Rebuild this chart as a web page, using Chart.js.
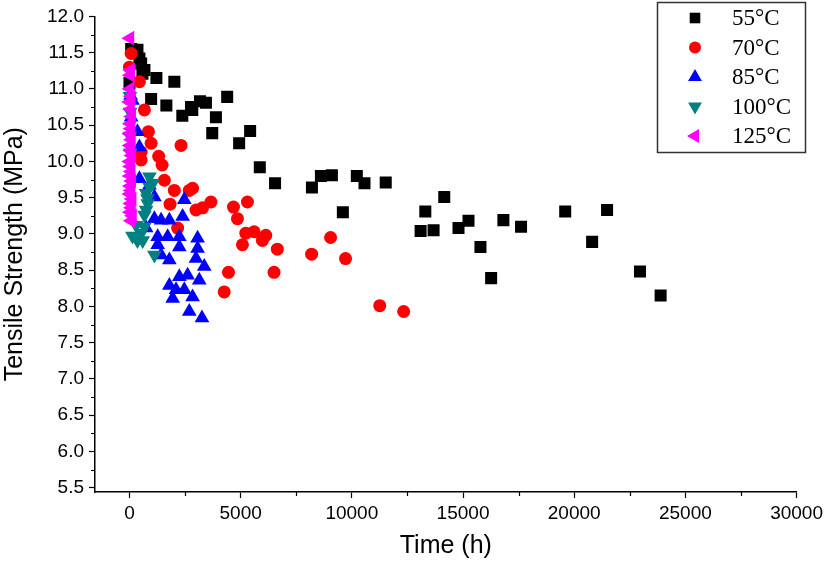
<!DOCTYPE html>
<html><head><meta charset="utf-8">
<script src="https://cdn.jsdelivr.net/npm/chart.js@4/dist/chart.umd.min.js"></script>
<style>html,body{margin:0;padding:0;background:#fff}</style>
</head><body>
<canvas id="c" width="827" height="561"></canvas>
<script>
// ---- data ----
const seriesLabels = ['55\u00B0C','70\u00B0C','85\u00B0C','100\u00B0C','125\u00B0C'];
const xTicks = [0,5000,10000,15000,20000,25000,30000];
const yTicks = [5.5,6.0,6.5,7.0,7.5,8.0,8.5,9.0,9.5,10.0,10.5,11.0,11.5,12.0];

const time55 = [76,359,448,525,673,583,1211,2018,973,1659,3170,3439,2767,2825,2377,4394,3888,3722,5426,4932,5861,6547,8206,8609,9103,10224,10569,11524,9596,14156,13304,13093,13676,14797,15246,15784,16264,16815,17609,19595,20806,21478,22958,23886,0];
const ts55   = [11.55,11.54,11.42,11.35,11.26,11.21,11.15,11.10,10.86,10.77,10.83,10.81,10.75,10.71,10.63,10.89,10.61,10.39,10.42,10.25,9.92,9.70,9.64,9.80,9.81,9.80,9.70,9.71,9.30,9.51,9.31,9.04,9.05,9.08,9.18,8.82,8.39,9.19,9.10,9.31,8.89,9.33,8.48,8.15,11.08];

const time70 = [76,0,448,673,852,973,2318,525,525,1314,1466,1569,2018,2690,2838,1825,2991,3287,3663,4677,5305,4856,2166,5233,5605,5977,6130,5080,6650,4453,6502,4260,9044,8192,9717,11255,12331];
const ts70   = [11.49,11.30,11.10,10.71,10.41,10.25,10.22,10.13,10.02,10.07,9.95,9.74,9.60,9.60,9.63,9.41,9.33,9.36,9.44,9.37,9.44,9.21,9.08,9.01,9.03,8.91,8.98,8.85,8.79,8.47,8.47,8.20,8.95,8.72,8.66,8.01,7.93];

const time85 = [50,135,76,359,448,448,1121,2466,1121,1421,1794,2390,749,1269,1717,2242,3063,1269,2242,3063,1421,1794,2991,3363,2242,2614,1794,3139,2094,2466,2838,1942,2690,3260,897];
const ts85   = [10.91,10.84,10.61,10.41,10.20,9.76,9.51,9.47,9.21,9.19,9.19,9.24,9.08,8.96,8.96,8.96,8.94,8.85,8.82,8.80,8.71,8.64,8.66,8.55,8.41,8.43,8.29,8.36,8.23,8.23,8.13,8.11,7.93,7.84,9.67];

const time100 = [20,30,20,40,897,1045,749,897,807,821,749,673,300,673,525,359,596,1121,135];
const ts100   = [10.90,10.68,10.35,10.12,9.79,9.70,9.56,9.65,9.49,9.42,9.33,9.26,9.12,9.10,9.01,8.91,8.91,8.71,8.97];

const time125 = [20,60,40,30,80,10,50,100,40,70,20,90,30,60,110,15,50,80,30,100,40,70,20,120,60,90,40,140,80];
const ts125   = [11.70,11.26,11.19,11.00,10.90,10.82,10.72,10.62,10.52,10.45,10.38,10.30,10.22,10.15,10.08,10.00,9.93,9.86,9.80,9.73,9.66,9.60,9.55,9.48,9.42,9.36,9.30,9.25,9.18];

// ---- build ----
function pts(xs, ys){ return xs.map((x,i)=>({x:x, y:ys[i]})); }
const styles = [
  {c:'#000000', s:'rect', r:8.5, rot:0},
  {c:'#ff0000', s:'circle', r:6.5, rot:0},
  {c:'#0000ff', s:'triangle', r:8.5, rot:0},
  {c:'#008080', s:'triangle', r:8.5, rot:180},
  {c:'#ff00ff', s:'triangle', r:8.5, rot:-90}
];
const legendR = [7.5, 6, 8, 8, 8];
const allX = [time55,time70,time85,time100,time125];
const allY = [ts55,ts70,ts85,ts100,ts125];
const datasets = seriesLabels.map((lab,i)=>({
  label: lab,
  data: pts(allX[i], allY[i]),
  pointStyle: styles[i].s,
  pointRotation: styles[i].rot,
  pointRadius: styles[i].r,
  pointHoverRadius: styles[i].r,
  backgroundColor: styles[i].c,
  borderColor: styles[i].c,
  pointBorderWidth: 0,
  showLine: false,
  order: 5 - i
}));

const FONT = '"Liberation Sans", Arial, sans-serif';

const minorTicks = {
  id: 'minorTicks',
  afterDraw(chart){
    const ctx = chart.ctx, xs = chart.scales.x, ys = chart.scales.y;
    ctx.save();
    ctx.strokeStyle = '#000'; ctx.lineWidth = 1.2;
    ctx.beginPath();
    for (let v = 2500; v < 30000; v += 5000){
      const p = Math.round(xs.getPixelForValue(v)) + 0.5;
      ctx.moveTo(p, xs.top); ctx.lineTo(p, xs.top + 4);
    }
    for (let v = 5.75; v < 12; v += 0.5){
      const p = Math.round(ys.getPixelForValue(v)) + 0.5;
      ctx.moveTo(ys.right, p); ctx.lineTo(ys.right - 4, p);
    }
    ctx.stroke();
    ctx.restore();
  }
};

function drawMarker(ctx, st, r, x, y){
  ctx.save();
  ctx.fillStyle = st.c;
  ctx.translate(x, y);
  ctx.rotate(st.rot * Math.PI / 180);
  ctx.beginPath();
  if (st.s === 'rect'){
    const h = r * Math.SQRT1_2; ctx.rect(-h, -h, 2*h, 2*h);
  } else if (st.s === 'circle'){
    ctx.arc(0, 0, r, 0, Math.PI*2);
  } else {
    ctx.moveTo(0, -r);
    ctx.lineTo(r*Math.cos(Math.PI/6), r*0.5);
    ctx.lineTo(-r*Math.cos(Math.PI/6), r*0.5);
    ctx.closePath();
  }
  ctx.fill();
  ctx.restore();
}

const boxLegend = {
  id: 'boxLegend',
  afterDraw(chart){
    const ctx = chart.ctx;
    ctx.save();
    ctx.strokeStyle = '#333'; ctx.lineWidth = 1.5;
    ctx.strokeRect(657.5, 2.5, 148, 150);
    const rows = [18, 47.5, 77, 106.5, 136];
    ctx.font = '23px "Liberation Serif", "Times New Roman", serif';
    ctx.fillStyle = '#000'; ctx.textBaseline = 'middle'; ctx.textAlign = 'left';
    chart.data.datasets.forEach((ds, i) => {
      drawMarker(ctx, styles[i], legendR[i], 695, rows[i]);
      ctx.fillText(ds.label, 732, rows[i] + 1);
    });
    ctx.restore();
  }
};

new Chart(document.getElementById('c'), {
  type: 'scatter',
  data: { datasets },
  plugins: [minorTicks, boxLegend],
  options: {
    responsive: false,
    animation: false,
    devicePixelRatio: 1,
    layout: { padding: { top: 16, right: 28, left: 0, bottom: 0 } },
    plugins: { legend: { display: false }, tooltip: { enabled: false } },
    scales: {
      x: {
        type: 'linear', min: -1550, max: 30000,
        afterBuildTicks: s => { s.ticks = xTicks.map(v => ({value: v})); },
        afterFit: s => { s.height = 69; },
        grid: { drawOnChartArea: false, drawTicks: true, tickLength: 6, tickColor: '#000', tickWidth: 1.2 },
        border: { display: true, color: '#000', width: 1.5 },
        ticks: { color: '#000', font: { family: FONT, size: 19 }, padding: 4, maxRotation: 0, callback: v => String(v) },
        title: { display: true, text: 'Time (h)', color: '#000', font: { family: FONT, size: 25 }, padding: { top: 0, bottom: 0 } }
      },
      y: {
        type: 'linear', min: 5.44, max: 12,
        afterBuildTicks: s => { s.ticks = yTicks.map(v => ({value: v})); },
        afterFit: s => { s.width = 95; },
        grid: { drawOnChartArea: false, drawTicks: true, tickLength: 6, tickColor: '#000', tickWidth: 1.2 },
        border: { display: true, color: '#000', width: 1.5 },
        ticks: { color: '#000', font: { family: FONT, size: 19 }, padding: 5, callback: v => Number(v).toFixed(1) },
        title: { display: true, text: 'Tensile Strength (MPa)', color: '#000', font: { family: FONT, size: 25 }, padding: { top: 0, bottom: 0 } }
      }
    }
  }
});
</script>
</body></html>
